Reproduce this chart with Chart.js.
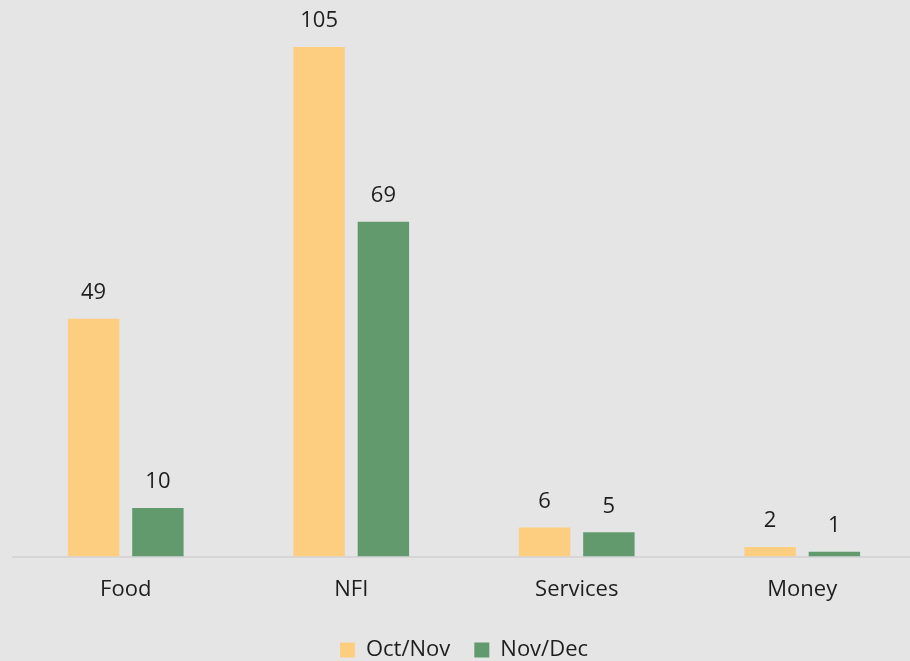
<!DOCTYPE html>
<html>
<head>
<meta charset="utf-8">
<script src="https://cdn.jsdelivr.net/npm/chart.js@4.4.1/dist/chart.umd.min.js"></script>
<style>
  html, body { margin: 0; padding: 0; background: #e5e5e5; overflow: hidden; }
  #wrap { width: 915px; height: 661px; }
</style>
</head>
<body>
<div id="wrap"><canvas id="chart"></canvas></div>
<script>
// data
var categories = ['Food', 'NFI', 'Services', 'Money'];
var octNov = [49, 105, 6, 2];
var novDec = [10, 69, 5, 1];
var seriesNames = ['Oct/Nov', 'Nov/Dec'];

var fontFamily = "'Open Sans', 'Liberation Sans', sans-serif";

// draws the value above each bar
var valueLabels = {
    id: 'valueLabels',
    afterDatasetsDraw: function (chart) {
        var ctx = chart.ctx;
        ctx.save();
        ctx.fillStyle = '#1e1e1e';
        ctx.font = '22px ' + fontFamily;
        ctx.textAlign = 'center';
        ctx.textBaseline = 'middle';
        chart.data.datasets.forEach(function (ds, i) {
            var meta = chart.getDatasetMeta(i);
            meta.data.forEach(function (bar, j) {
                ctx.fillText(ds.data[j], bar.x, bar.y - 26);
            });
        });
        ctx.restore();
    }
};

var ctx = document.getElementById('chart').getContext('2d');
var myChart = new Chart(ctx, {
    type: 'bar',
    data: {
        labels: categories,
        datasets: [{
            label: seriesNames[0],
            data: octNov,
            backgroundColor: '#fdcd80'
        }, {
            label: seriesNames[1],
            data: novDec,
            backgroundColor: '#629a6d'
        }]
    },
    options: {
        responsive: true,
        maintainAspectRatio: false,
        animation: false,
        categoryPercentage: 0.57,
        barPercentage: 0.8,
        layout: {
            padding: { left: 13, right: 0, top: 0, bottom: -10 }
        },
        scales: {
            x: {
                grid: { display: false },
                border: { display: true, color: '#d6d6d6', width: 2 },
                ticks: {
                    color: '#1e1e1e',
                    font: { family: fontFamily, size: 22 },
                    padding: 12
                }
            },
            y: {
                display: false,
                min: 0,
                max: 114.7
            }
        },
        plugins: {
            legend: {
                position: 'bottom',
                labels: {
                    color: '#1e1e1e',
                    font: { family: fontFamily, size: 22 },
                    boxWidth: 15,
                    boxHeight: 15,
                    padding: 24
                }
            },
            tooltip: { enabled: false }
        }
    },
    plugins: [valueLabels]
});
</script>
</body>
</html>
